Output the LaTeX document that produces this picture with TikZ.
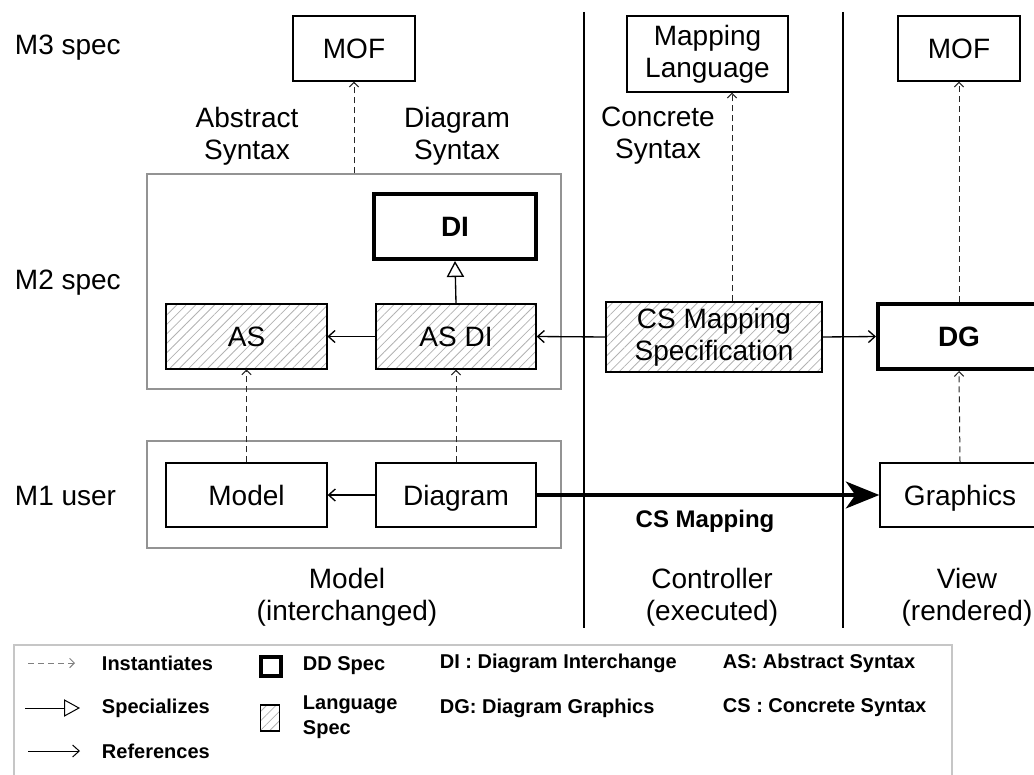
\documentclass[tikz,border=0pt]{standalone}
\usepackage{fontspec}
\setmainfont{Liberation Sans}
\usetikzlibrary{arrows.meta,patterns.meta}

\tikzset{every picture/.style={line width=0.75pt}}
\tikzset{
  boxsz/.style 2 args={minimum width=#1*0.75pt, minimum height=#2*0.75pt, inner sep=0pt},
  oneline/.style={text height=15pt, text depth=0pt},
  plainbox/.style={draw, line width=1pt, align=center, font=\fontsize{21}{24}\selectfont},
  ddbox/.style={plainbox, line width=3pt, font=\fontsize{21}{24}\selectfont\bfseries},
  langbox/.style={plainbox, pattern={Lines[angle=45,distance=5pt,line width=0.6pt]}, pattern color=gray!60},
  groupbox/.style={draw=gray!85, line width=1pt},
  lbl/.style={align=center, font=\fontsize{21}{24}\selectfont},
  legtxt/.style={anchor=west, align=left, font=\fontsize{15}{18.5}\selectfont\bfseries},
  instof/.style={draw=black!85, dash pattern=on 4.5pt off 3pt, -{Straight Barb[length=3.5pt,width=7pt]}},
  refto/.style={draw, line width=1pt, -{Straight Barb[length=5pt,width=9pt]}},
  specof/.style={draw, line width=1pt, -{Triangle[open,length=12pt,width=13pt]}},
  mapflow/.style={draw, line width=3.5pt, -{Stealth[length=25pt,width=20pt,inset=7pt]}},
}

\begin{document}
\begin{tikzpicture}[x=0.75pt,y=0.75pt,yscale=-1,xscale=1]
\useasboundingbox (0,0) rectangle (1034,774);

%Lane separators
\draw [line width=1pt] (584,12) -- (584,628);
\draw [line width=1pt] (843,12) -- (843,628);

%Level labels
\node [lbl, anchor=west] (lvlthree) at (10,48) {M3 spec};
\node [lbl, anchor=west] (lvltwo) at (10,283) {M2 spec};
\node [lbl, anchor=west] (lvlone) at (10,496) {M1 user};

%Group frames
\node [groupbox, boxsz={414}{215}] (m2box) at (354,281.5) {};
\node [groupbox, boxsz={414}{107}] (m1box) at (354,494.5) {};

%M3 boxes
\node [plainbox, oneline, boxsz={122}{65}] (mofA) at (354,48.5) {MOF};
\node [plainbox, boxsz={161}{76}] (mapLang) at (707.5,54) {Mapping\\Language};
\node [plainbox, oneline, boxsz={122}{65}] (mofB) at (959,48.5) {MOF};

%M2 boxes
\node [ddbox, oneline, boxsz={162}{65}] (di) at (455,226.5) {DI};
\node [langbox, oneline, boxsz={161}{65}] (as) at (246.5,336.5) {AS};
\node [langbox, oneline, boxsz={160}{65}] (asdi) at (456,336.5) {AS DI};
\node [langbox, boxsz={216}{70}] (csmap) at (714,337) {CS Mapping\\Specification};
\node [ddbox, oneline, boxsz={162}{65}] (dg) at (959,336.5) {DG};

%M1 boxes
\node [plainbox, oneline, boxsz={161}{64}] (model) at (246.5,495) {Model};
\node [plainbox, oneline, boxsz={160}{64}] (diagram) at (456,495) {Diagram};
\node [plainbox, oneline, boxsz={160}{64}] (graphics) at (960,495) {Graphics};

% Text Node
\node [lbl] (abssyn) at (247,136) {Abstract\\Syntax};
\node [lbl] (diasyn) at (457,136) {Diagram\\Syntax};
\node [lbl] (consyn) at (658,136) {Concrete\\Syntax};
\node [font=\fontsize{18}{21}\selectfont\bfseries] (csmaplbl) at (705,521) {CS Mapping};
\node [lbl] (lanemodel) at (347,597) {Model\\(interchanged)};
\node [lbl] (lanectrl) at (712,597) {Controller\\(executed)};
\node [lbl] (laneview) at (967,597) {View\\(rendered)};

%Connectors
\draw [instof] (m2box.north) -- (mofA.south);
\draw [instof] ([xshift=13.5pt]csmap.north) -- ([xshift=13.5pt]csmap.north |- mapLang.south);
\draw [instof] (dg.north) -- (mofB.south);
\draw [specof] (asdi.north) -- (di.south);
\draw [refto] (asdi.west) -- (as.east);
\draw [refto] (csmap.west) -- (asdi.east);
\draw [refto] (csmap.east) -- (dg.west);
\draw [instof] (model.north) -- (as.south);
\draw [instof] (diagram.north) -- (asdi.south);
\draw [instof] (graphics.north) -- (dg.south);
\draw [refto] (diagram.west) -- (model.east);
\draw [mapflow] (diagram.east) -- (graphics.west);

%Legend
\draw [draw=gray!45, line width=1pt] (14,645) rectangle (952,790);
\coordinate (instA) at (28,663);
\coordinate (instB) at (75,663);
\coordinate (specA) at (25,708);
\coordinate (specB) at (80,708);
\coordinate (refA) at (28,751);
\coordinate (refB) at (80,751);
\draw [instof, draw=gray] (instA) -- (instB);
\draw [specof, line width=0.75pt] (specA) -- (specB);
\draw [refto, line width=0.75pt] (refA) -- (refB);
\node [legtxt] (keyinst) at (97,663) {Instantiates};
\node [legtxt] (keyspec) at (97,708) {Specializes};
\node [legtxt] (keyref) at (97,751) {References};
\node [ddbox, boxsz={20}{19}] (keydd) at (271,666) {};
\node [langbox, boxsz={19}{26}] (keylang) at (270,718) {};
\node [legtxt] (keyddtxt) at (298,666) {DD Spec};
\node [legtxt] (keylangtxt) at (298,717) {Language\\Spec};
\node [legtxt] (keydi) at (435,663) {DI : Diagram Interchange};
\node [legtxt] (keydg) at (435,708) {DG: Diagram Graphics};
\node [legtxt] (keyas) at (718,663) {AS: Abstract Syntax};
\node [legtxt] (keycs) at (718,708) {CS : Concrete Syntax};

\end{tikzpicture}
\end{document}
